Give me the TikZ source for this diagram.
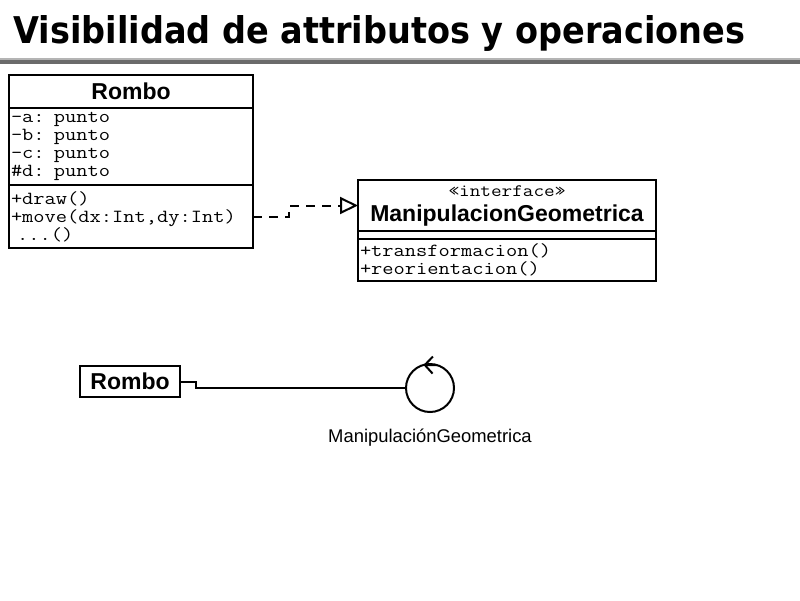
\documentclass[tikz,border=0pt]{standalone}
\usepackage{fontspec}
\setmainfont{Liberation Sans}
\setmonofont{Latin Modern Mono}[FakeStretch=1.18]
\newfontfamily\titlefont{DejaVu Sans}
\usepackage{graphicx}
\usetikzlibrary{positioning, arrows.meta}
\definecolor{barlight}{HTML}{B4B4B4}
\definecolor{bardark}{HTML}{6B6B6B}

\begin{document}
\begin{tikzpicture}[x=1pt, y=-1pt,
    box/.style={draw, line width=2pt, inner sep=2pt, outer sep=0pt},
    head/.style={box, minimum width=#1, font=\bfseries\fontsize{23}{25}\selectfont},
    memb/.style={box, align=left, font=\ttfamily\fontsize{18.5}{18}\selectfont},
    realize/.style={line width=2pt, dash pattern=on 9pt off 7pt, -{Triangle[open, length=18pt, width=17pt]}}]
    \useasboundingbox (0,0) rectangle (800,600);

    % Title
    \node[anchor=base west, inner sep=0pt] (title) at (13,43)
        {\resizebox{732pt}{28pt}{\titlefont\bfseries Visibilidad de attributos y operaciones}};
    \fill[barlight] (0,58) rectangle (800,60);
    \fill[bardark] (0,60) rectangle (800,64);

    % Class Rombo
    \node[head=244pt, minimum height=33pt, anchor=north west] (rombo) at (9,75) {Rombo};
    \node[memb, text width=240pt, minimum height=77pt, below=0pt of rombo] (romboattr)
        {-a: punto\\-b: punto\\-c: punto\\\#d: punto};
    \node[memb, text width=240pt, minimum height=63pt, below=0pt of romboattr] (romboops)
        {+draw()\\+move(dx:Int,dy:Int)\\\ ...()};

    % Interface
    \node[head=298pt, minimum height=51pt, anchor=north west, align=center] (iface) at (358,180)
        {{\ttfamily\mdseries\fontsize{17.5}{17}\selectfont «interface»}\\ManipulacionGeometrica};
    \node[box, minimum width=298pt, minimum height=8pt, below=0pt of iface] (ifaceattr) {};
    \node[memb, text width=294pt, minimum height=42pt, below=0pt of ifaceattr] (ifaceops)
        {+transformacion()\\+reorientacion()};

    % Realization
    \draw[realize] (romboops.east) -- ++(36,0) |- (iface.west);

    % Lollipop notation
    \node[head=100pt, minimum height=31pt] (rombobrief) at (130,381.5) {Rombo};
    \node[circle, draw, line width=2pt, minimum size=48pt, inner sep=0pt, outer sep=0pt] (lollipop) at (430,388) {};
    \draw[line width=2pt] (rombobrief.east) -- ++(16,0) |- (lollipop.west);
    \draw[line width=2pt, -{Straight Barb[length=8pt, width=17pt]}] (lollipop.72) -- (lollipop.106);
    \node[below=17pt of lollipop, inner sep=0pt, font=\fontsize{18.4}{20}\selectfont] (ifacename) {ManipulaciónGeometrica};
\end{tikzpicture}
\end{document}
